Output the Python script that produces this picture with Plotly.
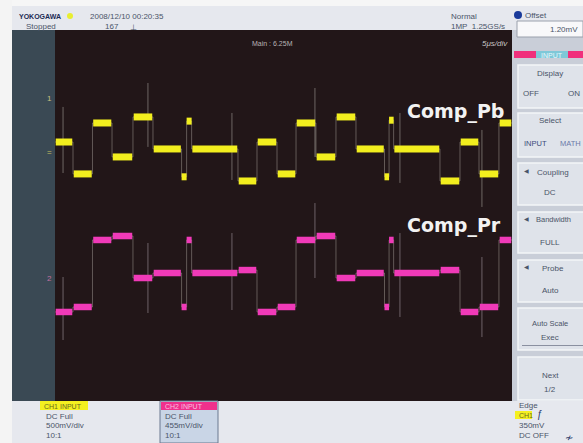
import plotly.graph_objects as go

W, H = 583, 443

# ---------------- data (time in microseconds, 5 us/div) ----------------
seg_start = [0.0, 1.97, 4.1, 6.24, 8.53, 10.72, 13.85, 14.4, 14.95, 20.02, 22.1, 24.29,
             26.37, 28.55, 30.74, 32.93, 36.05, 36.55, 37.05, 42.12, 44.31, 46.39, 48.57]
seg_end_last = 50.0

# Comp_Pb (CH1, 500 mV/div) levels in volts
pb_levels = [0.075, -0.269, 0.280, -0.086, 0.345, 0.0, -0.30, 0.30, 0.0, -0.345, 0.075, -0.269,
             0.280, -0.086, 0.345, 0.0, -0.30, 0.31, 0.0, -0.345, 0.075, -0.269, 0.280]
# Comp_Pr (CH2, 455 mV/div) levels in volts
pr_levels = [-0.382, -0.333, 0.324, 0.363, -0.049, 0.0, -0.333, 0.324, 0.0, 0.029, -0.382, -0.333,
             0.324, 0.363, -0.049, 0.0, -0.333, 0.324, 0.0, 0.029, -0.382, -0.333, 0.324]

# glitch (faint vertical streak) times and extents
glitch_t = [0.88, 10.17, 19.36, 28.44, 37.74, 46.71]
pb_glitch_hi = [0.453, 0.711, 0.388, 0.657, 0.388, 0.205]
pb_glitch_lo = [-0.259, 0.022, -0.334, -0.086, -0.366, -0.625]
pr_glitch_hi = [-0.039, 0.294, 0.392, 0.686, 0.392, 0.157]
pr_glitch_lo = [-0.657, -0.392, -0.363, -0.049, -0.431, -0.628]

pb_range = [-2.716, 1.282]
pr_range = [-1.255, 2.383]

# ---------------- helpers ----------------
def px(x):
    return x / W

def py(y):
    return 1 - y / H

seg_end = seg_start[1:] + [seg_end_last]

def step_xy(levels):
    xs = list(seg_start) + [seg_end_last]
    ys = list(levels) + [levels[-1]]
    return xs, ys

def thick_xy(levels):
    xs, ys = [], []
    for a, b, v in zip(seg_start, seg_end, levels):
        pad = 0.08 if b - a > 1 else 0.0
        xs += [a + pad, b - pad, None]
        ys += [v, v, None]
    return xs, ys

def glitch_xy(lo, hi):
    xs, ys = [], []
    for t, l, h in zip(glitch_t, lo, hi):
        xs += [t, t, None]
        ys += [l, h, None]
    return xs, ys

YEL = '#f2ee1e'
PNK = '#f03ab8'

fig = go.Figure()

# thin transitions
for lv, yax in ((pb_levels, 'y'), (pr_levels, 'y2')):
    sx, sy = step_xy(lv)
    fig.add_trace(go.Scatter(x=sx, y=sy, yaxis=yax, mode='lines', line_shape='hv',
                             line=dict(color='rgba(205,200,190,0.38)', width=1), hoverinfo='skip'))
# glitch streaks
gx, gy = glitch_xy(pb_glitch_lo, pb_glitch_hi)
fig.add_trace(go.Scatter(x=gx, y=gy, mode='lines', line=dict(color='rgba(215,215,205,0.42)', width=1),
                         hoverinfo='skip'))
gx, gy = glitch_xy(pr_glitch_lo, pr_glitch_hi)
fig.add_trace(go.Scatter(x=gx, y=gy, yaxis='y2', mode='lines',
                         line=dict(color='rgba(215,205,215,0.42)', width=1), hoverinfo='skip'))
# thick levels
tx, ty = thick_xy(pb_levels)
fig.add_trace(go.Scatter(x=tx, y=ty, mode='lines', line=dict(color=YEL, width=7), name='Comp_Pb'))
tx, ty = thick_xy(pr_levels)
fig.add_trace(go.Scatter(x=tx, y=ty, yaxis='y2', mode='lines', line=dict(color=PNK, width=6.5), name='Comp_Pr'))

shapes = []
def rect(x0, y0, x1, y1, fill, line=None, lw=0, layer='below'):
    shapes.append(dict(type='rect', xref='paper', yref='paper', x0=px(x0), x1=px(x1), y0=py(y1), y1=py(y0),
                       fillcolor=fill, line=dict(color=line or fill, width=lw), layer=layer))

# header & frame
rect(0, 0, 583, 6, '#f6f6f6')
rect(12, 6, 583, 30, '#e6e8ee')
rect(12, 30, 55, 401, '#3a4954')
rect(55, 30, 512, 401, '#221618')
rect(512, 30, 583, 401, '#c9ced8')
rect(12, 401, 583, 443, '#e6e8ee')
rect(0, 0, 12, 443, '#f4f4f4')
# offset box
rect(517, 21, 583, 37, '#f8f8fa', '#9aa0ac', 1)
# right panel header
rect(514, 51, 536, 58, '#f0307c')
rect(536, 51, 568, 58, '#7fc8d8')
rect(568, 51, 583, 58, '#f0307c')
# buttons
for y0, y1 in [(65, 108), (113, 157), (163, 205), (212, 253), (260, 302), (308, 350), (357, 400)]:
    rect(518, y0, 585, y1, '#dfe3ea', '#f4f6f8', 1.5)
rect(522, 345, 583, 346, '#8a90a0')
# bottom boxes
rect(40, 401, 88, 410, '#f4f020')
rect(160, 401, 218, 443, '#c9d5e6', '#6a7890', 1)
rect(161, 402, 217, 410, '#f0308c')
rect(515, 411, 532, 419, '#f4f020')
shapes.append(dict(type='circle', xref='paper', yref='paper', x0=px(67), x1=px(73), y0=py(19), y1=py(13),
                   fillcolor='#e8ee30', line=dict(width=0)))
shapes.append(dict(type='circle', xref='paper', yref='paper', x0=px(514), x1=px(522), y0=py(19), y1=py(11),
                   fillcolor='#1a3a9a', line=dict(width=0)))

ann = []
def txt(x, y, s, size=8, color='#4a5266', anchor='left', bold=False, italic=False, family='Liberation Sans'):
    if bold:
        s = '<b>' + s + '</b>'
    if italic:
        s = '<i>' + s + '</i>'
    ann.append(dict(xref='paper', yref='paper', x=px(x), y=py(y), text=s, showarrow=False,
                    xanchor=anchor, yanchor='middle', font=dict(size=size, color=color, family=family)))

TC = '#4a5468'
txt(17, 16, 'YOKOGAWA', 7, '#1c2a55', bold=True)
txt(88, 16, '2008/12/10 00:20:35', 8, TC)
txt(24, 27, 'Stopped', 8, TC)
txt(103, 27, '167', 8, TC)
txt(128, 28, '⊥', 8, TC)
txt(449, 16, 'Normal', 8, TC)
txt(449, 27, '1MP  1.25GS/s', 8, TC)
txt(523, 15, 'Offset', 8, TC)
txt(580, 29, '1.20mV', 8, TC, anchor='right')
txt(552, 55, 'INPUT', 7, '#e8f8fc', anchor='center')
# screen texts
txt(272, 43, 'Main : 6.25M', 7, '#b8b4b4', anchor='center')
txt(510, 44, '5μs/div', 8, '#c8c4c4', anchor='right', italic=True)
txt(405, 111, 'Comp_Pb', 19, '#f2f2f2', bold=True, family='DejaVu Sans')
txt(405, 226, 'Comp_Pr', 19, '#f2f2f2', bold=True, family='DejaVu Sans')
txt(49, 98, '1', 8, '#c8c080', anchor='center')
txt(49, 152, '=', 8, '#c8c060', anchor='center')
txt(49, 278, '2', 8, '#c070a0', anchor='center')
# right panel buttons
txt(550, 73, 'Display', 8, TC, anchor='center')
txt(531, 94, 'OFF', 8, TC, anchor='center')
txt(574, 94, 'ON', 8, TC, anchor='center')
txt(550, 121, 'Select', 8, TC, anchor='center')
txt(535, 143, 'INPUT', 7.5, '#3a4a7a', anchor='center')
txt(570, 143, 'MATH', 7.5, '#6a7aa8', anchor='center')
txt(522, 171, '◀', 6, TC)
txt(553, 172, 'Coupling', 8, TC, anchor='center')
txt(550, 193, 'DC', 8, TC, anchor='center')
txt(522, 219, '◀', 6, TC)
txt(553, 220, 'Bandwidth', 7.5, TC, anchor='center')
txt(550, 242, 'FULL', 8, TC, anchor='center')
txt(522, 267, '◀', 6, TC)
txt(553, 268, 'Probe', 8, TC, anchor='center')
txt(550, 290, 'Auto', 8, TC, anchor='center')
txt(550, 323, 'Auto Scale', 7.5, TC, anchor='center')
txt(550, 337, 'Exec', 8, TC, anchor='center')
txt(550, 375, 'Next', 8, TC, anchor='center')
txt(550, 389, '1/2', 8, TC, anchor='center')
# bottom
txt(42, 406, 'CH1 INPUT', 7, '#6a6a20')
txt(44, 416, 'DC Full', 8, TC)
txt(44, 425, '500mV/div', 8, TC)
txt(44, 435, '10:1', 8, TC)
txt(163, 406, 'CH2 INPUT', 7, '#f8c0e0')
txt(163, 416, 'DC Full', 8, TC)
txt(163, 425, '455mV/div', 8, TC)
txt(163, 435, '10:1', 8, TC)
txt(517, 405, 'Edge', 8, TC)
txt(517, 415, 'CH1', 7, '#6a6a20')
txt(535, 414, 'ƒ', 10, '#2a3a6a')
txt(517, 425, '350mV', 8, TC)
txt(517, 435, 'DC OFF', 8, TC)
txt(563, 437, '≁', 10, '#2a3a6a')

fig.update_layout(
    width=W, height=H, autosize=False,
    margin=dict(l=0, r=0, t=0, b=0),
    paper_bgcolor='#eceef2', plot_bgcolor='#221618',
    showlegend=False,
    xaxis=dict(domain=[px(55), px(512)], range=[0, 50], visible=False, fixedrange=True),
    yaxis=dict(domain=[py(401), py(30)], range=pb_range, visible=False, fixedrange=True),
    yaxis2=dict(overlaying='y', range=pr_range, visible=False, fixedrange=True),
    shapes=shapes, annotations=ann,
)

fig.write_html('out.html', config={'displayModeBar': False},
               post_script="document.body.style.margin='0';document.body.style.overflow='hidden';")
